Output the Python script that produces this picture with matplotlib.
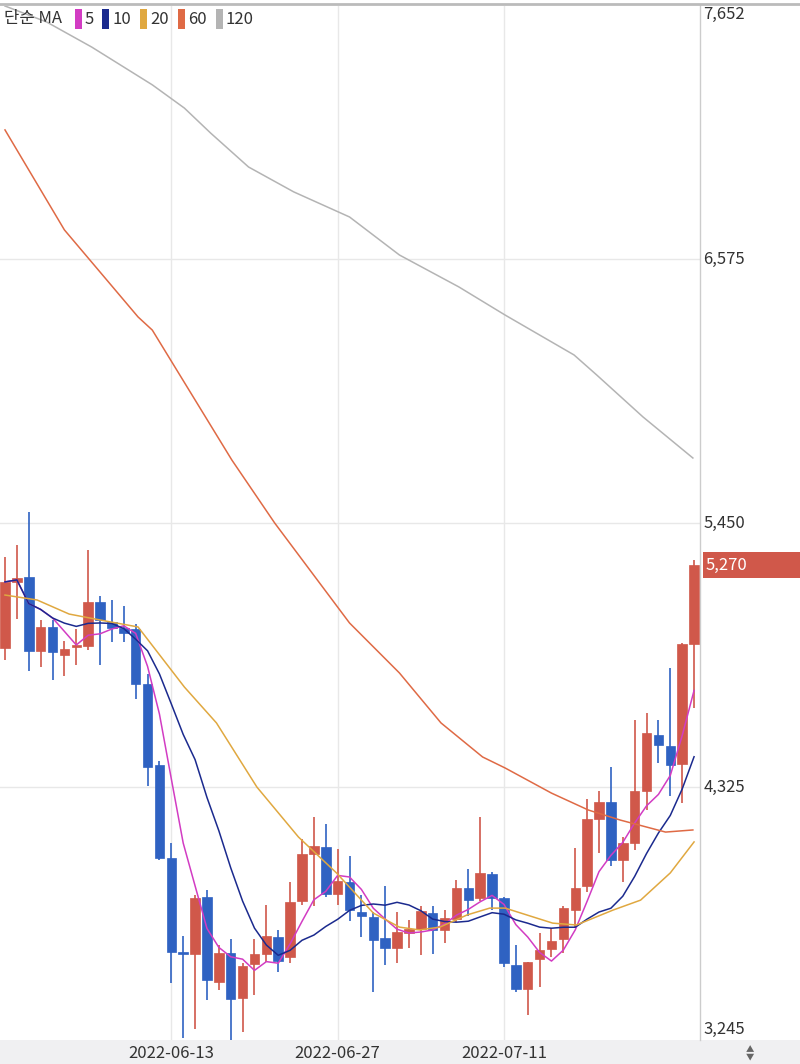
import matplotlib
matplotlib.use("Agg")
import matplotlib.pyplot as plt
from matplotlib.patches import Rectangle
import numpy as np
import pandas as pd

plt.rcParams['font.family'] = ['Noto Sans CJK KR', 'DejaVu Sans']

opens  = [4917,5199,5220,4905,5007,4888,4922,4926,5113,5028,5003,4998,4764,4419,4022,3622,3613,3856,3494,3618,
          3426,3571,3613,3686,3601,3839,4040,4069,3869,3920,3792,3771,3682,3639,3703,3720,3788,3716,3762,3895,
          3852,3954,3852,3566,3464,3592,3635,3677,3801,3903,4189,4261,4014,4086,4308,4547,4500,4423,4934]
highs  = [5305,5356,5497,5037,5037,4947,4998,5335,5139,5122,5096,5020,4807,4436,4086,3690,3865,3886,3652,3677,
          3575,3677,3822,3716,3920,4103,4197,4167,4061,4031,3865,3792,3903,3792,3758,3818,3818,3801,3929,3976,
          4197,3963,3856,3652,3579,3703,3724,3818,4065,4274,4308,4410,4112,4611,4640,4611,4832,4939,5292]
lows   = [4866,5041,4819,4836,4781,4798,4845,4909,4845,4943,4943,4700,4329,4014,3490,3255,3294,3417,3460,3247,
          3281,3439,3579,3537,3575,3822,3818,3856,3822,3754,3686,3451,3566,3575,3639,3609,3613,3660,3750,3775,
          3839,3801,3558,3451,3353,3473,3601,3618,3728,3878,4044,3988,3920,4057,4227,4427,4287,4257,4662]
closes = [5199,5216,4905,5007,4900,4913,4926,5113,5037,5003,4981,4764,4410,4022,3622,3613,3852,3503,3618,3422,
          3562,3613,3690,3584,3835,4040,4074,3869,3924,3801,3775,3673,3639,3707,3720,3797,3716,3767,3895,3843,
          3959,3852,3575,3464,3579,3630,3669,3809,3895,4189,4261,4014,4086,4308,4555,4504,4419,4934,5270]

ma20_idx = [0,2.7,5.4,8.5,11.2,15.1,17.8,21.2,24.7,27.9,31.0,33.2,34.9,36.6,38.9,40.8,42.1,46.1,48.1,51.2,53.5,56.0,58.0]
ma20_val = [5143,5122,5062,5032,5007,4751,4598,4325,4112,3959,3788,3728,3716,3728,3780,3809,3809,3745,3737,3801,3843,3959,4091]
ma60_idx = [0,5.0,11.2,12.4,19.1,22.7,29.0,33.2,36.7,40.2,42.1,46.0,49.1,51.8,55.6,57.9]
ma60_val = [7125,6699,6328,6272,5718,5450,5024,4811,4598,4453,4406,4299,4227,4184,4133,4142]
ma120_idx = [0,3.5,7.3,12.4,15.1,17.3,20.5,24.3,29.0,33.2,38.2,42.1,47.9,49.8,53.7,57.9]
ma120_val = [7653,7585,7478,7317,7218,7112,6967,6861,6754,6592,6456,6336,6166,6081,5902,5727]

date_ticks = [14, 28, 42]
date_labels = ["2022-06-13", "2022-06-27", "2022-07-11"]
grid_prices = [4325, 5450, 6575]
edge_labels = [3245, 7652]

RED = '#d0584a'; BLUE = '#2f62c2'
C_MA5 = '#d23cc3'; C_MA10 = '#1b2a8e'; C_MA20 = '#e0a840'; C_MA60 = '#df6a45'; C_MA120 = '#b4b4b4'

fig = plt.figure(figsize=(8, 10.64), dpi=100)
ax = fig.add_axes([0, 24/1064, 700/800, 1034/1064])
ax.set_xlim(-0.42, 58.5)
ax.set_ylim(3247, 7653)
for s in ax.spines.values():
    s.set_visible(False)
ax.set_xticks([]); ax.set_yticks([])
for p in grid_prices:
    ax.axhline(p, color='#e8e8e8', lw=1, zorder=0)
for t in date_ticks:
    ax.axvline(t, color='#e8e8e8', lw=1, zorder=0)

n = len(closes)
x = np.arange(n)
w = 0.8
for i in range(n):
    o, h, l, c = opens[i], highs[i], lows[i], closes[i]
    col = RED if c >= o else BLUE
    ax.vlines(i, l, h, color=col, lw=1.2, zorder=2)
    lo, hi = min(o, c), max(o, c)
    ax.add_patch(Rectangle((i - w/2, lo), w, max(hi - lo, 8), facecolor=col, edgecolor=col, lw=0.5, zorder=3))

cs = pd.Series(closes)
ma5 = cs.rolling(5, min_periods=1).mean()
ma10 = cs.rolling(10, min_periods=1).mean()
ax.plot(x, ma5, color=C_MA5, lw=1.1, zorder=4)
ax.plot(x, ma10, color=C_MA10, lw=1.1, zorder=4)
ax.plot(ma20_idx, ma20_val, color=C_MA20, lw=1.1, zorder=4)
ax.plot(ma60_idx, ma60_val, color=C_MA60, lw=1.1, zorder=4)
ax.plot(ma120_idx, ma120_val, color=C_MA120, lw=1.1, zorder=4)

# right axis labels
for p in grid_prices:
    ax.text(58.5 + 0.3, p, f"{p:,}", va='center', ha='left', fontsize=12, color='#333333', clip_on=False)
ax.text(58.8, 7652, f"{edge_labels[1]:,}", va='top', ha='left', fontsize=12, color='#333333', clip_on=False)
ax.text(58.8, 3290, f"{edge_labels[0]:,}", va='center', ha='left', fontsize=12, color='#333333', clip_on=False)

# last price tag
fig.patches.append(Rectangle((703/800, 1 - 578/1064), 97/800, 26/1064, transform=fig.transFigure,
                             facecolor=RED, edgecolor='none'))
fig.text(706/800, 1 - 565/1064, f"{closes[-1]:,}", color='white', fontsize=12, va='center', ha='left')

# separators and bottom band
fig.add_artist(plt.Line2D([700/800, 700/800], [24/1064, 1 - 5/1064], color='#cccccc', lw=1))
fig.add_artist(plt.Line2D([0, 1], [1 - 4/1064, 1 - 4/1064], color='#bbbbbb', lw=2))
fig.patches.append(Rectangle((0, 0), 1, 24/1064, transform=fig.transFigure, facecolor='#f0f0f2', edgecolor='none'))
for t, lab in zip(date_ticks, date_labels):
    xf = (5 + 11.88 * t) / 800
    fig.text(xf, 11/1064, lab, ha='center', va='center', fontsize=12, color='#333333')
fig.text(750/800, 11/1064, "▲\n▼", ha='center', va='center', fontsize=6, color='#666666', linespacing=0.8)

# legend
fig.text(4/800, 1 - 19/1064, "단순 MA", fontsize=12, color='#333333', va='center', ha='left')
lx = 75
for col, lab in [(C_MA5, "5"), (C_MA10, "10"), (C_MA20, "20"), (C_MA60, "60"), (C_MA120, "120")]:
    fig.patches.append(Rectangle((lx/800, 1 - 29/1064), 7/800, 20/1064, transform=fig.transFigure,
                                 facecolor=col, edgecolor='none'))
    fig.text((lx + 10)/800, 1 - 19/1064, lab, fontsize=12, color='#333333', va='center', ha='left')
    lx += 10 + 11 * len(lab) + 6

fig.savefig("out.png", dpi=100)
